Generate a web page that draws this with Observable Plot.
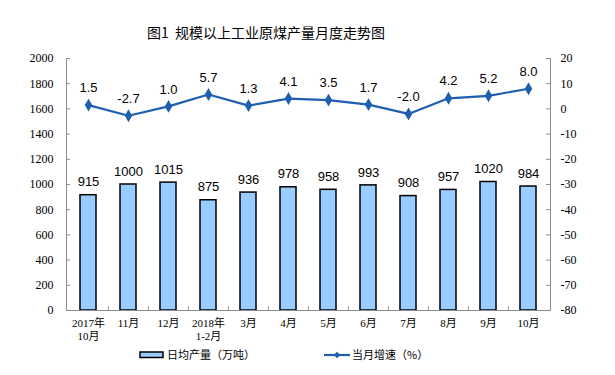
<!DOCTYPE html>
<html>
<head>
<meta charset="utf-8">
<script src="https://cdn.jsdelivr.net/npm/d3@7"></script>
<script src="https://cdn.jsdelivr.net/npm/@observablehq/plot@0.6"></script>
<style>
  html, body { margin: 0; padding: 0; background: #fff; }
</style>
</head>
<body>
<div id="chart"></div>
<script>
const categories = ["2017年\n10月","11月","12月","2018年\n1-2月","3月","4月","5月","6月","7月","8月","9月","10月"];
const production = [915,1000,1015,875,936,978,958,993,908,957,1020,984];
const growth = [1.5,-2.7,1.0,5.7,1.3,4.1,3.5,1.7,-2.0,4.2,5.2,8.0];
const leftTicks = [0,200,400,600,800,1000,1200,1400,1600,1800,2000];
const rightTicks = [-80,-70,-60,-50,-40,-30,-20,-10,0,10,20];

const title = "图1  规模以上工业原煤产量月度走势图";
const legendBar = "日均产量（万吨）";
const legendLine = "当月增速（%）";

// right axis (-80..20) mapped onto left (0..2000)
const toLeft = g => (g + 80) * 20;

const data = categories.map((c, i) => ({cat: c, prod: production[i], g: growth[i]}));

const W = 615, H = 375;
const mL = 66, mR = 65, mT = 58, mB = 65;
const step = (W - mL - mR) / categories.length;
const axisColor = "#8c8c8c";
const lineColor = "#1f5fb0";

const plot = Plot.plot({
  width: W, height: H,
  marginTop: mT, marginBottom: mB, marginLeft: mL, marginRight: mR,
  style: {fontFamily: "'Liberation Serif', 'Noto Sans CJK SC', serif", fontSize: "12px", color: "#000", background: "#fff"},
  x: {domain: categories, paddingInner: 0.6, paddingOuter: 0.3, axis: null, label: null},
  y: {domain: [0, 2000], axis: null, label: null},
  marks: [
    Plot.barY(data, {x: "cat", y: "prod", fill: "#99ccff", stroke: "#000", strokeWidth: 1.5}),
    Plot.text(data, {x: "cat", y: "prod", text: d => String(d.prod), dy: -13, fontSize: 13, fontFamily: "'Liberation Sans', Arial, sans-serif", fill: "#000"}),
    Plot.line(data, {x: "cat", y: d => toLeft(d.g), stroke: lineColor, strokeWidth: 2.2}),
    Plot.dot(data, {x: "cat", y: d => toLeft(d.g), symbol: "diamond", r: 3, fill: lineColor, stroke: lineColor}),
    Plot.text(data, {x: "cat", y: d => toLeft(d.g), text: d => d.g.toFixed(1), dy: -17, fontSize: 13, fontFamily: "'Liberation Sans', Arial, sans-serif", fill: "#000"}),
    Plot.frame({anchor: "left", stroke: axisColor}),
    Plot.frame({anchor: "right", stroke: axisColor}),
    Plot.frame({anchor: "bottom", stroke: axisColor}),
    Plot.tickY(leftTicks, {y: d => d, insetRight: W - mL - mR - 4, stroke: axisColor}),
    Plot.tickY(leftTicks, {y: d => d, insetLeft: W - mL - mR - 4, stroke: axisColor}),
    Plot.ruleX(categories.slice(1), {x: d => d, dx: -step / 2, y1: 0, y2: 30, stroke: axisColor}),
    Plot.axisY({anchor: "left", ticks: leftTicks, tickFormat: d => String(d), tickSize: 0, tickPadding: 13, fontSize: 12, fill: "#000", label: null}),
    Plot.axisY({anchor: "right", ticks: rightTicks.map(toLeft), tickFormat: v => String(v / 20 - 80), tickSize: 0, tickPadding: 10, fontSize: 12, fill: "#000", label: null}),
    Plot.axisX({tickSize: 0, tickPadding: 7, fontSize: 11, lineHeight: 1.2, fill: "#000", label: null})
  ]
});

const svg = d3.select(plot);
svg.append("text")
  .attr("x", 266).attr("y", 38)
  .attr("text-anchor", "middle")
  .attr("font-family", "'Noto Sans CJK SC', sans-serif")
  .attr("font-size", 14)
  .attr("fill", "#000")
  .text(title);

const lg = svg.append("g").attr("text-anchor", "start");
lg.append("rect").attr("x", 140).attr("y", 352).attr("width", 23).attr("height", 5.5)
  .attr("fill", "#99ccff").attr("stroke", "#000").attr("stroke-width", 1.5);
lg.append("text").attr("x", 167).attr("y", 355).attr("dy", "0.35em").attr("text-anchor", "start")
  .attr("font-family", "'Noto Sans CJK SC', sans-serif").attr("font-size", 11).attr("fill", "#000")
  .text(legendBar);
lg.append("line").attr("x1", 324).attr("x2", 350).attr("y1", 355).attr("y2", 355)
  .attr("stroke", lineColor).attr("stroke-width", 2.2);
lg.append("path").attr("d", d3.symbol(d3.symbolDiamond2, 28)()).attr("transform", "translate(337,355)")
  .attr("fill", lineColor);
lg.append("text").attr("x", 352).attr("y", 355).attr("dy", "0.35em").attr("text-anchor", "start")
  .attr("font-family", "'Noto Sans CJK SC', sans-serif").attr("font-size", 11).attr("fill", "#000")
  .text(legendLine);

document.getElementById("chart").appendChild(plot);
</script>
</body>
</html>
